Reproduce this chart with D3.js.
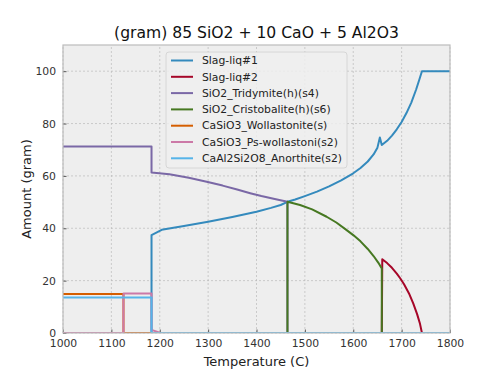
<!DOCTYPE html>
<html>
<head>
<meta charset="utf-8">
<script src="https://cdn.jsdelivr.net/npm/d3@7"></script>
<style>
  body { margin: 0; background: #fff; }
  svg { font-family: "DejaVu Sans", sans-serif; }
</style>
</head>
<body>
<div id="chart"></div>
<script>
/* Phase amounts vs temperature, bmh-like look */

const xTicks = [1000, 1100, 1200, 1300, 1400, 1500, 1600, 1700, 1800];
const yTicks = [0, 20, 40, 60, 80, 100];

const seriesNames = ["Slag-liq#1", "Slag-liq#2", "SiO2_Tridymite(h)(s4)", "SiO2_Cristobalite(h)(s6)",
    "CaSiO3_Wollastonite(s)", "CaSiO3_Ps-wollastoni(s2)", "CaAl2Si2O8_Anorthite(s2)"];

const slag1T = [1000, 1183, 1183, 1204, 1250, 1300, 1350, 1400, 1430, 1450, 1464, 1480, 1500, 1525, 1550, 1575, 1600, 1615, 1630, 1642, 1650, 1655, 1659, 1670, 1680, 1690, 1700, 1710, 1720, 1730, 1737, 1742, 1800];
const slag1V = [0, 0, 37.4, 39.4, 40.9, 42.5, 44.3, 46.3, 47.8, 48.9, 50.1, 51.0, 52.3, 54.0, 56.0, 58.3, 61.0, 63.0, 65.5, 68.2, 70.8, 74.7, 71.8, 73.4, 75.4, 77.8, 80.6, 84.0, 88.0, 93.0, 97.0, 100, 100];

const slag2T = [1000, 1659, 1660, 1670, 1680, 1690, 1697, 1705, 1715, 1724, 1732, 1738, 1742, 1800];
const slag2V = [0, 0, 28.2, 26.7, 24.9, 22.7, 20.9, 18.6, 15.2, 11.3, 7.2, 3.5, 0, 0];

const tridT = [1000, 1183, 1183, 1220, 1260, 1297, 1330, 1360, 1387, 1410, 1440, 1464, 1464, 1800];
const tridV = [71.2, 71.2, 61.3, 60.6, 59.3, 57.8, 56.3, 54.8, 53.4, 52.3, 51.1, 50.1, 0, 0];

const cristT = [1000, 1464, 1464, 1490, 1515, 1545, 1565, 1585, 1600, 1615, 1630, 1642, 1652, 1659, 1659, 1800];
const cristV = [0, 0, 50.1, 48.9, 47.2, 44.4, 42.2, 39.5, 37.4, 35.0, 32.1, 29.4, 26.8, 24.6, 0, 0];

const wollT = [1000, 1125, 1125, 1800];
const wollV = [14.9, 14.9, 0, 0];

const psWollT = [1000, 1125, 1125, 1183, 1183, 1197, 1200, 1800];
const psWollV = [0, 0, 15.1, 15.1, 1.2, 0.3, 0, 0];

const anorT = [1000, 1183, 1183, 1800];
const anorV = [13.6, 13.6, 0, 0];

const colors = ["#348ABD", "#A60628", "#7A68A6", "#467821", "#D55E00", "#CC79A7", "#56B4E9"];

const series = [
    [slag1T, slag1V], [slag2T, slag2V], [tridT, tridV], [cristT, cristV],
    [wollT, wollV], [psWollT, psWollV], [anorT, anorV]
].map(([t, v], i) => ({
    name: seriesNames[i],
    color: colors[i],
    points: t.map((d, j) => [d, v[j]])
}));

const width = 500,
      height = 375,
      margin = ({ top: 45, right: 50, bottom: 42, left: 63 });

let svg = d3.select("#chart")
    .append("svg")
    .attr("width", width)
    .attr("height", height);

let x = d3.scaleLinear()
    .domain([1000, 1800])
    .range([margin.left, width - margin.right]);

let y = d3.scaleLinear()
    .domain([0, 110])
    .range([height - margin.bottom, margin.top]);

// plot background
svg.append("rect")
    .attr("x", margin.left)
    .attr("y", margin.top)
    .attr("width", x(1800) - x(1000))
    .attr("height", y(0) - y(110))
    .attr("fill", "#eeeeee");

svg.append("clipPath")
    .attr("id", "clip")
    .append("rect")
    .attr("x", margin.left)
    .attr("y", margin.top)
    .attr("width", x(1800) - x(1000))
    .attr("height", y(0) - y(110));

// grid
let grid = svg.append("g")
    .attr("stroke", "#b2b2b2")
    .attr("stroke-width", 0.6)
    .attr("stroke-dasharray", "2,2");

grid.selectAll(".gx")
    .data(xTicks)
    .join("line")
    .attr("x1", d => x(d)).attr("x2", d => x(d))
    .attr("y1", y(0)).attr("y2", y(110));

grid.selectAll(".gy")
    .data(yTicks)
    .join("line")
    .attr("x1", x(1000)).attr("x2", x(1800))
    .attr("y1", d => y(d)).attr("y2", d => y(d));

// axes
let xAxis = svg.append("g")
    .attr("transform", `translate(0,${y(0)})`)
    .call(d3.axisBottom(x).tickValues(xTicks).tickFormat(d3.format("d"))
        .tickSizeInner(-3.5).tickSizeOuter(0).tickPadding(6));

let yAxis = svg.append("g")
    .attr("transform", `translate(${x(1000)},0)`)
    .call(d3.axisLeft(y).tickValues(yTicks).tickFormat(d3.format("d"))
        .tickSizeInner(-3.5).tickSizeOuter(0).tickPadding(7));

for (let ax of [xAxis, yAxis]) {
    ax.select(".domain").remove();
    ax.selectAll("text")
        .style("font-family", "DejaVu Sans")
        .style("font-size", "10.8px")
        .attr("fill", "#333");
    ax.selectAll("line").attr("stroke", "#333").attr("stroke-width", 0.8);
}

// lines
let line = d3.line()
    .x(d => x(d[0]))
    .y(d => y(d[1]));

svg.append("g")
    .attr("clip-path", "url(#clip)")
    .selectAll("path")
    .data(series)
    .join("path")
    .attr("d", d => line(d.points))
    .attr("fill", "none")
    .attr("stroke", d => d.color)
    .attr("stroke-width", 2)
    .attr("stroke-linejoin", "round")
    .attr("stroke-linecap", "square");

// frame
svg.append("rect")
    .attr("x", margin.left)
    .attr("y", margin.top)
    .attr("width", x(1800) - x(1000))
    .attr("height", y(0) - y(110))
    .attr("fill", "none")
    .attr("stroke", "#bcbcbc")
    .attr("stroke-width", 1.2);

// legend
let legend = svg.append("g")
    .attr("transform", "translate(166,52)");

legend.append("rect")
    .attr("width", 181)
    .attr("height", 116)
    .attr("rx", 3)
    .attr("fill", "#eeeeee")
    .attr("fill-opacity", 0.85)
    .attr("stroke", "#d0d0d0")
    .attr("stroke-width", 0.8);

let item = legend.selectAll(".item")
    .data(series)
    .join("g")
    .attr("transform", (d, i) => `translate(0,${8.5 + i * 16.3})`);

item.append("line")
    .attr("x1", 5).attr("x2", 27)
    .attr("stroke", d => d.color)
    .attr("stroke-width", 2);

item.append("text")
    .text(d => d.name)
    .attr("x", 36)
    .attr("dy", "0.35em")
    .style("font-size", "10.8px")
    .attr("fill", "#222");

// titles
svg.append("text")
    .text("(gram) 85 SiO2 + 10 CaO + 5 Al2O3")
    .attr("x", (x(1000) + x(1800)) / 2)
    .attr("y", 38)
    .attr("text-anchor", "middle")
    .style("font-size", "15.6px")
    .attr("fill", "#111");

svg.append("text")
    .text("Temperature (C)")
    .attr("x", (x(1000) + x(1800)) / 2)
    .attr("y", 366)
    .attr("text-anchor", "middle")
    .style("font-size", "13px")
    .attr("fill", "#222");

svg.append("text")
    .text("Amount (gram)")
    .attr("transform", `translate(31,${(y(0) + y(110)) / 2}) rotate(-90)`)
    .attr("text-anchor", "middle")
    .style("font-size", "13px")
    .attr("fill", "#222");
</script>
</body>
</html>
